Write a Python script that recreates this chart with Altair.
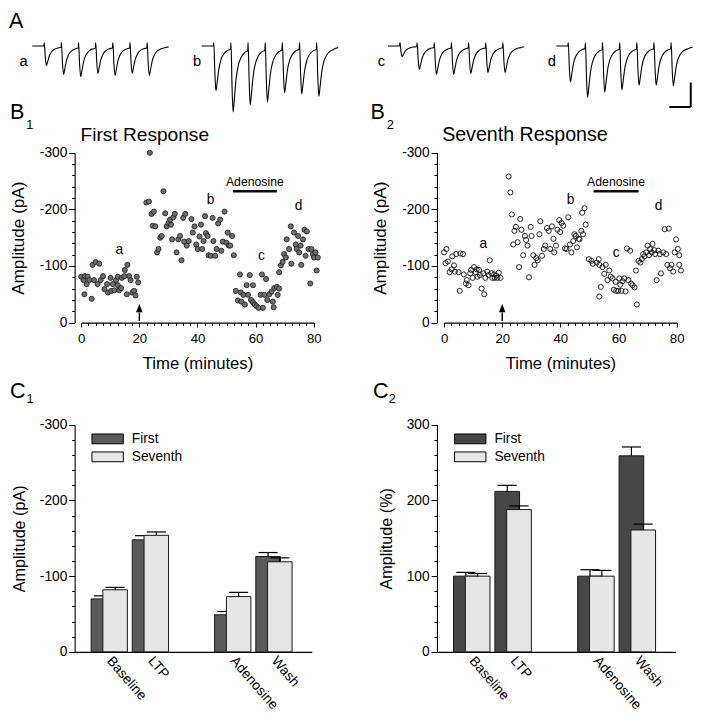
import altair as alt
import numpy as np
import pandas as pd

FONT = "Liberation Sans"

# ======================= DATA =======================
# Panel A: peak amplitude (pA, inward) of the 7 EPSCs of each example train
TRACE_NAMES = ["a", "b", "c", "d"]
TRACE_PEAKS_A = [80, 116, 125, 112, 120, 112, 120]
TRACE_PEAKS_B = [183, 269, 240, 229, 192, 196, 205]
TRACE_PEAKS_C = [43, 96, 116, 116, 112, 109, 109]
TRACE_PEAKS_D = [147, 209, 189, 179, 160, 160, 163]
PULSE_INTERVAL_MS = 40
EPSC_SHAPE_MS = [2.5, 5, 8, 12, 17, 24, 32, 39]
EPSC_SHAPE_FRACTION = [0.6, 1.0, 0.8, 0.5, 0.3, 0.17, 0.10, 0.07]
EPSC_TAIL_MS = [45, 50]
EPSC_TAIL_FRACTION = [0.045, 0.03]
ARTIFACT_PA = 14
SCALE_BAR_MS = 50
SCALE_BAR_PA = 100

# Panel B1: first response amplitude (pA) vs time (min)
B1_POINTS = [
    (0.0, -81), (0.8, -75), (1.3, -82), (1.1, -50), (2.2, -81), (2.8, -75), (1.9, -68), (3.6, -42),
    (3.9, -102), (5.0, -107), (6.2, -104), (4.4, -75), (5.6, -68), (6.7, -75), (7.5, -82), (8.0, -59),
    (8.9, -68), (9.2, -53), (10.1, -79), (10.3, -56), (10.9, -68), (11.4, -57), (12.0, -75), (12.6, -66),
    (12.6, -81), (13.1, -57), (13.7, -61), (14.0, -79), (14.8, -82), (15.0, -93), (15.9, -102), (15.7, -50),
    (16.5, -82), (17.0, -75), (17.6, -53), (18.2, -56), (18.7, -48), (19.1, -81), (19.6, -71),
    (22.4, -212), (23.3, -214), (23.6, -300), (24.2, -192), (25.0, -196), (24.6, -171), (25.5, -170),
    (26.1, -124), (26.6, -130), (27.2, -150), (27.7, -153), (28.3, -232), (28.9, -193), (29.4, -170),
    (30.0, -176), (30.6, -182), (30.9, -173), (31.3, -147), (31.7, -186), (32.2, -192), (32.8, -124),
    (33.4, -147), (34.0, -153), (34.5, -110), (35.1, -185), (35.4, -143), (35.8, -192), (36.3, -136),
    (37.0, -144), (37.9, -183), (38.4, -159), (39.0, -170), (39.6, -138), (40.1, -130), (40.7, -152),
    (41.2, -173), (41.6, -130), (42.1, -144), (42.6, -188), (42.9, -158), (43.5, -153), (43.8, -119),
    (44.6, -118), (45.2, -185), (45.5, -144), (46.1, -118), (46.6, -130), (47.1, -175), (47.8, -182),
    (48.2, -127), (48.7, -143), (49.3, -196), (50.0, -141), (50.4, -159), (50.8, -136), (51.3, -136),
    (51.9, -153), (52.5, -119),
    (53.2, -56), (53.9, -39), (54.6, -85), (54.9, -53), (55.1, -37), (55.8, -49), (56.3, -32), (56.9, -66),
    (57.4, -49), (58.0, -84), (58.4, -40), (59.1, -66), (59.1, -36), (59.7, -32), (60.3, -29), (61.0, -26),
    (61.7, -49), (62.2, -85), (62.5, -26), (63.0, -49), (63.6, -77), (64.0, -40), (64.7, -50), (65.5, -55),
    (65.9, -37), (66.2, -27), (66.4, -61), (67.3, -63), (67.6, -49), (68.1, -60),
    (68.1, -89), (68.7, -101), (69.3, -107), (69.8, -121), (70.4, -115), (70.7, -147), (71.5, -130),
    (72.1, -170), (72.3, -104), (73.2, -159), (73.8, -138), (74.1, -130), (74.6, -153), (75.0, -124),
    (75.5, -136), (75.7, -102), (76.3, -147), (76.8, -164), (77.2, -118), (77.6, -161), (78.2, -130),
    (78.8, -69), (79.2, -130), (79.7, -121), (80.1, -115), (80.6, -124), (81.0, -92), (81.4, -115),
]

# Panel B2: seventh response amplitude (pA) vs time (min)
B2_POINTS = [
    (0.0, -124), (0.8, -130), (0.5, -105), (1.3, -108), (1.9, -89), (2.8, -117), (3.4, -101), (2.6, -94),
    (3.7, -90), (4.2, -121), (5.0, -89), (5.4, -56), (5.6, -122), (6.5, -121), (6.8, -85), (7.5, -69),
    (7.8, -75), (8.4, -66), (9.0, -87), (9.3, -93), (9.8, -79), (10.3, -98), (10.9, -89), (11.2, -94),
    (11.5, -81), (12.0, -93), (12.3, -84), (12.9, -60), (13.5, -87), (13.8, -50), (14.2, -79), (14.8, -90),
    (15.3, -84), (15.7, -110), (16.3, -87), (16.6, -79), (17.2, -85), (17.4, -79), (18.0, -83), (18.3, -79),
    (18.8, -88), (19.4, -79),
    (22.2, -258), (22.8, -230), (23.3, -191), (23.8, -138), (24.2, -162), (24.7, -169), (25.3, -142),
    (25.8, -98), (26.2, -183), (26.6, -164), (27.2, -119), (27.8, -153), (28.2, -146), (28.7, -136),
    (29.2, -80), (29.8, -169), (30.1, -153), (30.7, -119), (31.1, -102), (31.7, -114), (32.2, -110),
    (32.8, -156), (33.1, -179), (33.7, -118), (34.3, -130), (34.8, -136), (35.4, -167), (36.0, -162),
    (36.5, -130), (37.1, -170), (37.6, -148), (37.9, -124), (38.5, -136), (39.0, -164), (39.6, -181),
    (39.9, -160), (40.4, -176), (41.0, -171), (41.6, -131), (42.1, -130), (42.7, -186), (43.3, -138),
    (43.8, -124), (44.4, -144), (44.8, -156), (45.3, -153), (45.7, -133), (46.3, -148), (46.6, -147),
    (47.2, -162), (47.5, -194), (48.3, -202), (48.7, -173), (47.8, -156),
    (49.8, -112), (50.7, -109), (51.2, -104), (52.5, -106), (53.2, -112), (53.4, -102), (53.9, -63),
    (53.4, -46), (54.5, -98), (55.1, -86), (55.6, -102), (56.2, -75), (56.8, -92), (57.3, -81), (57.9, -78),
    (58.4, -58), (59.0, -72), (59.2, -56), (59.9, -56), (60.3, -78), (60.6, -67), (61.0, -56), (61.4, -73),
    (62.0, -78), (62.4, -55), (62.9, -131), (64.0, -127), (63.4, -75), (64.3, -69), (64.8, -66),
    (65.5, -62), (66.0, -92), (66.3, -32),
    (66.9, -109), (67.5, -106), (68.0, -112), (68.5, -121), (68.9, -117), (69.5, -124), (70.0, -136),
    (70.5, -119), (70.9, -130), (71.4, -124), (71.7, -139), (72.3, -128), (72.6, -121), (73.1, -75),
    (73.7, -127), (74.2, -121), (74.6, -87), (75.4, -124), (75.9, -165), (76.4, -121), (76.8, -102),
    (77.3, -166), (77.7, -96), (78.2, -102), (78.8, -90), (79.3, -124), (79.8, -147), (80.4, -130),
    (80.9, -119), (80.9, -102), (81.5, -92),
]

B_LABELS = ["a", "b", "c", "d"]
B1_LABEL_TIME = [13.1, 44.5, 62.0, 74.8]
B1_LABEL_AMP = [-128, -217, -118, -206]
B2_LABEL_TIME = [13.5, 43.5, 59.2, 73.8]
B2_LABEL_AMP = [-138, -217, -123, -206]
B1_ADENOSINE = [52.2, 67.3]
B2_ADENOSINE = [51.4, 66.9]
STIM_TIME = 20

# Panels C1 / C2: mean amplitude +/- SEM
CATEGORIES = ["Baseline", "LTP", "Adenosine", "Wash"]
SERIES = ["First", "Seventh"]
C1_FIRST = [-70, -148, -49, -126]
C1_FIRST_ERR = [4, 5.5, 4.3, 5.2]
C1_SEVENTH = [-82, -154, -73, -119]
C1_SEVENTH_ERR = [3.2, 4.4, 5.6, 5.2]
C2_FIRST = [100, 212, 100, 259]
C2_FIRST_ERR = [5, 8, 8.5, 11.7]
C2_SEVENTH = [100, 188, 100, 161]
C2_SEVENTH_ERR = [3.5, 4.8, 7.6, 7.8]

# ======================= LAYOUT =======================
S = 0.98
W, H = 688, 698


def X(r):
    return round((r - 3) * S, 2)


def Y(r):
    return round((r - 4) * S, 2)


def L(v):
    return round(v * S, 2)


def lin(domain, r0, r1):
    return alt.Scale(domain=domain, range=[r0, r1], nice=False, zero=False)


def text_at(txt, x, y, size, align="left", baseline="alphabetic"):
    return alt.Chart(pd.DataFrame({"txt": [txt]})).mark_text(
        align=align, baseline=baseline, font=FONT, fontSize=L(size), color="black"
    ).encode(x=alt.value(x), y=alt.value(y), text="txt:N")


AXIS_STYLE = dict(
    domainColor="black", domainWidth=1.1, tickColor="black", tickWidth=1,
    labelColor="black", labelFont=FONT, titleFont=FONT, titleColor="black",
    titleFontWeight="normal", grid=False, labelFlush=False, labelOverlap=False,
)
NEG_EXPR = "datum.value === 0 ? '0' : '-' + abs(datum.value)"

layers = []

# ---------------- Panel A ----------------
def trace_df(peaks):
    t, v = [-28.0, -1.0], [0.0, 0.0]
    for k, amp in enumerate(peaks):
        s = k * PULSE_INTERVAL_MS
        t.append(s)
        v.append(ARTIFACT_PA)
        for dt, fr in zip(EPSC_SHAPE_MS, EPSC_SHAPE_FRACTION):
            t.append(s + dt)
            v.append(-fr * amp)
    s = (len(peaks) - 1) * PULSE_INTERVAL_MS
    for dt, fr in zip(EPSC_TAIL_MS, EPSC_TAIL_FRACTION):
        t.append(s + dt)
        v.append(-fr * peaks[-1])
    return pd.DataFrame({"t": t, "pA": v})


TRACE_T_DOMAIN = [-28, 292]
TRACE_I_DOMAIN = [-277, 27]
trace_left = [27.75, 200.75, 390.75, 562.45]
trace_label_x = [19, 196, 384, 558]
trace_scales = []
for name, peaks, left, lx in zip(
    TRACE_NAMES, [TRACE_PEAKS_A, TRACE_PEAKS_B, TRACE_PEAKS_C, TRACE_PEAKS_D], trace_left, trace_label_x
):
    xs = lin(TRACE_T_DOMAIN, X(left), X(left + 140))
    ys = lin(TRACE_I_DOMAIN, Y(112), Y(36))
    trace_scales.append((xs, ys))
    layers.append(
        alt.Chart(trace_df(peaks)).mark_line(interpolate="monotone", color="black", strokeWidth=1.1).encode(
            x=alt.X("t:Q", scale=xs, axis=None), y=alt.Y("pA:Q", scale=ys, axis=None)
        )
    )
    layers.append(text_at(name, X(lx), Y(63), 15, align="center"))
layers.append(text_at("A", X(4), Y(24), 22))

xs_d, ys_d = trace_scales[-1]
corner_t, corner_i = 285.7, -249
sb = pd.DataFrame({
    "t0": [corner_t - SCALE_BAR_MS, corner_t], "t1": [corner_t, corner_t],
    "i0": [corner_i, corner_i + SCALE_BAR_PA], "i1": [corner_i, corner_i],
})
layers.append(
    alt.Chart(sb).mark_rule(color="black", strokeWidth=L(2)).encode(
        x=alt.X("t0:Q", scale=xs_d, axis=None), x2="t1:Q",
        y=alt.Y("i0:Q", scale=ys_d, axis=None), y2="i1:Q",
    )
)

# ---------------- Panels B ----------------
ARROW_PATH = "M0,-1L0.8,1L-0.8,1Z"


def b_panel(points, x0, x80, y_axis_x, filled, lab_t, lab_a, aden, title, title_x, title_size,
            letter_x, sub_x, sub_txt):
    xs = lin([0, 80], X(x0), X(x80))
    ys = lin([0, -300], Y(325), Y(151.7))
    df = pd.DataFrame(points, columns=["time", "amp"])
    out = []
    x_major = alt.Axis(orient="bottom", offset=round(Y(325) - H, 2), values=[0, 20, 40, 60, 80],
                       tickSize=L(4.5), labelPadding=L(6), labelFontSize=L(13.5), format="d",
                       title="Time (minutes)", titleFontSize=L(17), titlePadding=L(11), **AXIS_STYLE)
    y_major = alt.Axis(orient="left", offset=-X(y_axis_x), values=[0, -100, -200, -300],
                       tickSize=L(6), labelPadding=L(2), labelFontSize=L(14), labelExpr=NEG_EXPR,
                       title="Amplitude (pA)", titleFontSize=L(17.5), titlePadding=L(12), **AXIS_STYLE)
    x_minor = alt.Axis(orient="bottom", offset=round(Y(325) - H, 2),
                       values=[i * 2.5 for i in range(33) if i % 8 != 0],
                       tickSize=L(3), labels=False, domain=False, title=None, grid=False,
                       tickColor="black", tickWidth=1)
    y_minor = alt.Axis(orient="left", offset=-X(y_axis_x),
                       values=[v for v in range(0, -301, -20) if v % 100 != 0],
                       tickSize=L(3), labels=False, domain=False, title=None, grid=False,
                       tickColor="black", tickWidth=1)
    if filled:
        mark = alt.Chart(df).mark_circle(size=L(L(27)), fill="#6e6e6e", stroke="#1a1a1a",
                                         strokeWidth=0.8, opacity=1)
    else:
        mark = alt.Chart(df).mark_point(size=L(L(27)), filled=False, stroke="#111111",
                                        strokeWidth=0.9, opacity=1, shape="circle")
    out.append(mark.encode(x=alt.X("time:Q", scale=xs, axis=x_major),
                           y=alt.Y("amp:Q", scale=ys, axis=y_major)))
    # stimulus arrow (shaft + head); the shaft layer carries the minor ticks
    shaft = pd.DataFrame({"time": [STIM_TIME], "a0": [-3], "a1": [-18]})
    out.append(alt.Chart(shaft).mark_rule(color="black", strokeWidth=1.4).encode(
        x=alt.X("time:Q", scale=xs, axis=x_minor), y=alt.Y("a0:Q", scale=ys, axis=y_minor), y2="a1:Q"))
    head = pd.DataFrame({"time": [STIM_TIME], "amp": [-25.5]})
    out.append(alt.Chart(head).mark_point(shape=ARROW_PATH, filled=True, fill="black", strokeWidth=0,
                                          opacity=1, size=L(L(72))).encode(
        x=alt.X("time:Q", scale=xs, axis=None), y=alt.Y("amp:Q", scale=ys, axis=None)))
    # adenosine bar + label
    bar = pd.DataFrame({"t0": [aden[0]], "t1": [aden[1]], "amp": [-232]})
    out.append(alt.Chart(bar).mark_rule(color="black", strokeWidth=L(2.7)).encode(
        x=alt.X("t0:Q", scale=xs, axis=None), x2="t1:Q", y=alt.Y("amp:Q", scale=ys, axis=None)))
    atxt = pd.DataFrame({"time": [(aden[0] + aden[1]) / 2], "amp": [-248], "txt": ["Adenosine"]})
    out.append(alt.Chart(atxt).mark_text(font=FONT, fontSize=L(12.5), color="black", baseline="middle").encode(
        x=alt.X("time:Q", scale=xs, axis=None), y=alt.Y("amp:Q", scale=ys, axis=None), text="txt:N"))
    ldf = pd.DataFrame({"time": lab_t, "amp": lab_a, "txt": B_LABELS})
    out.append(alt.Chart(ldf).mark_text(font=FONT, fontSize=L(14), color="black", baseline="middle").encode(
        x=alt.X("time:Q", scale=xs, axis=None), y=alt.Y("amp:Q", scale=ys, axis=None), text="txt:N"))
    out.append(text_at(title, X(title_x), Y(139.3), title_size))
    out.append(text_at("B", X(letter_x), Y(117), 22))
    out.append(text_at(sub_txt, X(sub_x), Y(127), 13))
    return out


layers += b_panel(B1_POINTS, 77.7, 315, 71, True, B1_LABEL_TIME, B1_LABEL_AMP, B1_ADENOSINE,
                  "First Response", 77, 19.5, 5, 21.5, "1")
layers += b_panel(B2_POINTS, 448, 685.3, 440.7, False, B2_LABEL_TIME, B2_LABEL_AMP, B2_ADENOSINE,
                  "Seventh Response", 446, 20, 373, 389.5, "2")

# ---------------- Panels C ----------------
SLOT_PX = 42.0
BAR_SHIFT = 12 / SLOT_PX
BAR_WIDTH = 25 / SLOT_PX
CAP_HALF = 9.7 / SLOT_PX
LABEL_POS = 18.5 / SLOT_PX
# legend swatch: 32 x 10 px rectangle drawn with a symbol of nominal size 16 px
RECT_PATH = "M-2,-0.625H2V0.625H-2Z"
SWATCH_NOMINAL = L(16)
LIGHT = "#e6e6e6"


def c_panel(first, first_err, seventh, seventh_err, ax_left, ax_right, negative, y_title, dark,
            legend_x, label_x, letter_x, sub_x, sub_txt):
    xs = lin([-0.4, 5.36], X(ax_left), X(ax_right))
    ys = lin([0, -300] if negative else [0, 300], Y(661), Y(429.3))
    rows = []
    for i, cat in enumerate(CATEGORIES):
        slot = i + (1 if i >= 2 else 0)
        for k, (series, vals, errs) in enumerate(((SERIES[0], first, first_err), (SERIES[1], seventh, seventh_err))):
            left = slot + k * BAR_SHIFT
            right = left + BAR_WIDTH
            c = (left + right) / 2
            v = vals[i]
            top = v + float(np.sign(v)) * errs[i]
            rows.append({"cat": cat, "series": series, "x0": left, "x1": right, "xc": c,
                         "c0": c - CAP_HALF, "c1": c + CAP_HALF, "value": v, "top": top, "zero": 0})
    df = pd.DataFrame(rows)
    major_vals = [0, -100, -200, -300] if negative else [0, 100, 200, 300]
    minor_vals = [v for v in (range(0, -301, -20) if negative else range(0, 301, 20)) if v % 100 != 0]
    ykw = dict(orient="left", offset=-X(ax_left), values=major_vals, tickSize=L(6), labelPadding=L(2),
               labelFontSize=L(14), title=y_title, titleFontSize=L(16.5), titlePadding=L(12), **AXIS_STYLE)
    if negative:
        ykw["labelExpr"] = NEG_EXPR
    y_major = alt.Axis(**ykw)
    y_minor = alt.Axis(orient="left", offset=-X(ax_left), values=minor_vals, tickSize=L(3), labels=False,
                       domain=False, title=None, grid=False, tickColor="black", tickWidth=1)
    x_axis = alt.Axis(orient="bottom", offset=round(Y(661) - H, 2), ticks=False, labels=False, title=None,
                      domainColor="black", domainWidth=1.1, grid=False)
    lx = round(X(legend_x) + SWATCH_NOMINAL / 2, 2)
    legend = alt.Legend(orient="none", legendX=lx, legendY=round(Y(443) - SWATCH_NOMINAL / 2, 2), title=None,
                        symbolType=RECT_PATH, symbolSize=round(SWATCH_NOMINAL ** 2, 1), symbolStrokeColor="black",
                        symbolStrokeWidth=1, symbolOpacity=1, labelFont=FONT, labelFontSize=L(14),
                        labelColor="black", labelOffset=round(X(label_x) - lx - SWATCH_NOMINAL, 2),
                        rowPadding=L(2), padding=0)
    out = []
    for k, series in enumerate(SERIES):
        base = alt.Chart(df).transform_filter(alt.datum.series == series)
        if k == 0:
            bars = base.mark_rect(stroke="#1a1a1a", strokeWidth=1).encode(
                x=alt.X("x0:Q", scale=xs, axis=x_axis), x2="x1:Q",
                y=alt.Y("value:Q", scale=ys, axis=y_major), y2="zero:Q",
                fill=alt.Fill("series:N", scale=alt.Scale(domain=SERIES, range=[dark, LIGHT]), legend=legend),
            )
        else:
            bars = base.mark_rect(fill=LIGHT, stroke="#1a1a1a", strokeWidth=1).encode(
                x=alt.X("x0:Q", scale=xs, axis=None), x2="x1:Q",
                y=alt.Y("value:Q", scale=ys, axis=None), y2="zero:Q",
            )
        out.append(bars)
        out.append(base.mark_rule(color="black", strokeWidth=1.2).encode(
            x=alt.X("xc:Q", scale=xs, axis=None),
            y=alt.Y("value:Q", scale=ys, axis=(y_minor if k == 0 else None)), y2="top:Q"))
        out.append(base.mark_rule(color="black", strokeWidth=1.2).encode(
            x=alt.X("c0:Q", scale=xs, axis=None), x2="c1:Q",
            y=alt.Y("top:Q", scale=ys, axis=None)))
    cat_df = pd.DataFrame({"cat": CATEGORIES,
                           "pos": [i + (1 if i >= 2 else 0) + LABEL_POS for i in range(len(CATEGORIES))]})
    out.append(alt.Chart(cat_df).mark_text(font=FONT, fontSize=L(14), color="black", angle=49,
                                           align="left", baseline="middle").encode(
        x=alt.X("pos:Q", scale=xs, axis=None), y=alt.value(Y(668)), text="cat:N"))
    out.append(text_at("C", X(letter_x), Y(402), 22))
    out.append(text_at(sub_txt, X(sub_x), Y(407), 13))
    return out


layers += c_panel(C1_FIRST, C1_FIRST_ERR, C1_SEVENTH, C1_SEVENTH_ERR, 71, 313, True,
                  "Amplitude (pA)", "#5a5a5a", 88, 128, 5, 22, "1")
layers += c_panel(C2_FIRST, C2_FIRST_ERR, C2_SEVENTH, C2_SEVENTH_ERR, 440.7, 684, False,
                  "Amplitude (%)", "#474747", 458, 498, 375.5, 391.5, "2")

chart = (
    alt.layer(*layers)
    .resolve_scale(x="independent", y="independent", fill="independent")
    .properties(width=W, height=H, padding=0, background="white")
    .configure(font=FONT)
    .configure_view(stroke=None)
)

chart.save("out.html", embed_options={"renderer": "svg", "actions": False})
